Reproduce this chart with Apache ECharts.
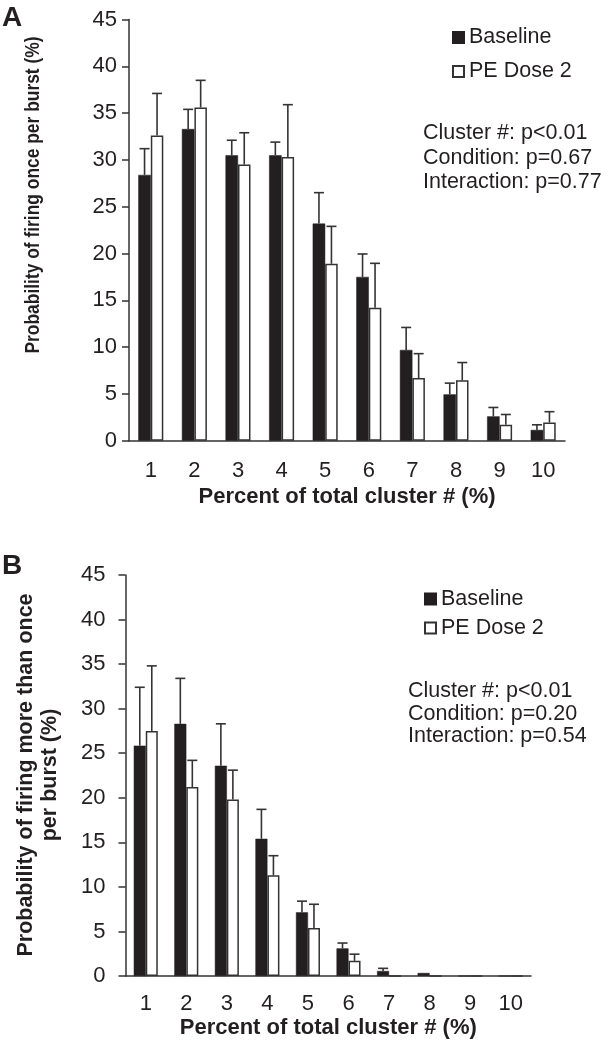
<!DOCTYPE html>
<html>
<head>
<meta charset="utf-8">
<script src="https://cdn.jsdelivr.net/npm/echarts@6/dist/echarts.min.js"></script>
<style>
html,body{margin:0;padding:0;background:#fff;}
#c{width:612px;height:1046px;}
</style>
</head>
<body>
<div id="c"></div>
<script>
// ---- data ----
const categories = ['1','2','3','4','5','6','7','8','9','10'];
const yTicksMax = 45;
const seriesNames = ['Baseline', 'PE Dose 2'];

// Panel A: probability of firing once per burst (%)
const baselineA    = [28.4, 33.3, 30.5, 30.5, 23.2, 17.5, 9.7, 4.95, 2.6, 1.15];
const baselineAErr = [2.8, 2.1, 1.6, 1.4, 3.3, 2.45, 2.4, 1.2, 0.95, 0.55];
const peDose2A     = [32.6, 35.6, 29.5, 30.3, 18.9, 14.2, 6.7, 6.45, 1.7, 1.95];
const peDose2AErr  = [4.5, 2.9, 3.4, 5.6, 4.0, 4.75, 2.6, 1.9, 1.1, 1.15];

// Panel B: probability of firing more than once per burst (%)
const baselineB    = [25.85, 28.3, 23.6, 15.4, 7.15, 3.1, 0.56, 0.34, 0, 0];
const baselineBErr = [6.55, 5.1, 4.7, 3.3, 1.25, 0.6, 0.3, 0, 0, 0];
const peDose2B     = [27.5, 21.2, 19.8, 11.3, 5.4, 1.7, 0, 0, 0, 0];
const peDose2BErr  = [7.3, 3.0, 3.3, 2.2, 2.65, 0.75, 0, 0, 0, 0];

const statsA = ['Cluster #: p<0.01', 'Condition: p=0.67', 'Interaction: p=0.77'];
const statsB = ['Cluster #: p<0.01', 'Condition: p=0.20', 'Interaction: p=0.54'];

// ---- styles ----
const INK = '#231f20';
const LINE = '#333333';
const FONT = '"Liberation Sans", Arial, Helvetica, sans-serif';
const BW_A = 12.5, BW_B = 12;

function errSeries(name, xi, yi, means, errs, side, bw) {
  return {
    name: name, type: 'custom', xAxisIndex: xi, yAxisIndex: yi, z: 5,
    silent: true,
    data: means.map((m, i) => [i, m, errs[i]]),
    encode: {x: 0, y: 1},
    renderItem: function (params, api) {
      const x = api.value(0), m = api.value(1), e = api.value(2);
      if (!(e > 0)) return null;
      const p0 = api.coord([x, m]);
      const p1 = api.coord([x, m + e]);
      const cx = p0[0] + side * bw / 2;
      const cap = 5;
      const st = {stroke: LINE, lineWidth: 1.6};
      return {
        type: 'group',
        children: [
          {type: 'line', shape: {x1: cx, y1: p0[1], x2: cx, y2: p1[1]}, style: st},
          {type: 'line', shape: {x1: cx - cap, y1: p1[1], x2: cx + cap, y2: p1[1]}, style: st}
        ]
      };
    }
  };
}

function barSeries(name, xi, yi, vals, dark, bw) {
  return {
    name: name, type: 'bar', xAxisIndex: xi, yAxisIndex: yi,
    data: vals, barWidth: bw, barGap: '0%',
    itemStyle: dark ? {color: INK, borderColor: INK, borderWidth: 0.5}
                    : {color: '#ffffff', borderColor: LINE, borderWidth: 1.5},
    emphasis: {disabled: true}
  };
}

function yAxisCfg(gi, margin) {
  return {
    type: 'value', gridIndex: gi, min: 0, max: yTicksMax, interval: 5,
    axisLine: {show: true, lineStyle: {color: LINE, width: 1.5}},
    axisTick: {show: true, length: 7, lineStyle: {color: LINE, width: 1.5}},
    splitLine: {show: false},
    axisLabel: {color: INK, fontSize: 22, fontFamily: FONT, margin: margin}
  };
}
function xAxisCfg(gi, margin, gap) {
  return {
    type: 'category', gridIndex: gi, data: categories,
    axisLine: {show: true, lineStyle: {color: LINE, width: 1.5}},
    axisTick: {show: false},
    axisLabel: {color: INK, fontSize: 22, fontFamily: FONT, margin: margin},
    name: 'Percent of total cluster # (%)', nameLocation: 'middle', nameGap: gap,
    nameTextStyle: {color: INK, fontSize: 22, fontWeight: 'bold', fontFamily: FONT}
  };
}
function legendCfg(left, top, gap) {
  return {
    data: seriesNames, orient: 'vertical', left: left, top: top,
    itemWidth: 11, itemHeight: 11, itemGap: gap, icon: 'rect',
    selectedMode: false,
    textStyle: {color: INK, fontSize: 21.5, fontFamily: FONT, lineHeight: 21}
  };
}

const chart = echarts.init(document.getElementById('c'), null, {renderer: 'canvas'});
chart.setOption({
  animation: false,
  backgroundColor: '#ffffff',
  grid: [
    {left: 129, top: 19.5, width: 436, height: 421.2},
    {left: 125.5, top: 575, width: 405.5, height: 401}
  ],
  xAxis: [xAxisCfg(0, 19, 45), xAxisCfg(1, 17, 41)],
  yAxis: [yAxisCfg(0, 12), yAxisCfg(1, 20)],
  legend: [legendCfg(447, 21.5, 12), legendCfg(419, 583, 7)],
  series: [
    barSeries(seriesNames[0], 0, 0, baselineA, true, BW_A),
    barSeries(seriesNames[1], 0, 0, peDose2A, false, BW_A),
    errSeries('errBaseA', 0, 0, baselineA, baselineAErr, -1, BW_A),
    errSeries('errPeA', 0, 0, peDose2A, peDose2AErr, 1, BW_A),
    barSeries(seriesNames[0], 1, 1, baselineB, true, BW_B),
    barSeries(seriesNames[1], 1, 1, peDose2B, false, BW_B),
    errSeries('errBaseB', 1, 1, baselineB, baselineBErr, -1, BW_B),
    errSeries('errPeB', 1, 1, peDose2B, peDose2BErr, 1, BW_B)
  ],
  graphic: [
    {type: 'text', left: 2, top: 4, style: {text: 'A', fill: INK, font: 'bold 28px ' + FONT}},
    {type: 'text', left: 2, top: 552, style: {text: 'B', fill: INK, font: 'bold 28px ' + FONT}},
    {type: 'text', x: 33, y: 195, rotation: Math.PI / 2, scaleX: 0.87,
     style: {text: 'Probability of firing once per burst (%)', fill: INK,
             font: 'bold 20px ' + FONT, align: 'center', verticalAlign: 'middle'}},
    {type: 'text', x: 38, y: 775, rotation: Math.PI / 2,
     style: {text: 'Probability of firing more than once\nper burst (%)', fill: INK,
             font: 'bold 21.5px ' + FONT, align: 'center', verticalAlign: 'middle', lineHeight: 24}},
    {type: 'text', x: 423, y: 158, style: {text: statsA.join('\n'), fill: INK,
             font: '21.5px ' + FONT, align: 'left', verticalAlign: 'middle', lineHeight: 24.5}},
    {type: 'text', x: 408, y: 714, style: {text: statsB.join('\n'), fill: INK,
             font: '21.5px ' + FONT, align: 'left', verticalAlign: 'middle', lineHeight: 22.5}}
  ]
});
</script>
</body>
</html>
